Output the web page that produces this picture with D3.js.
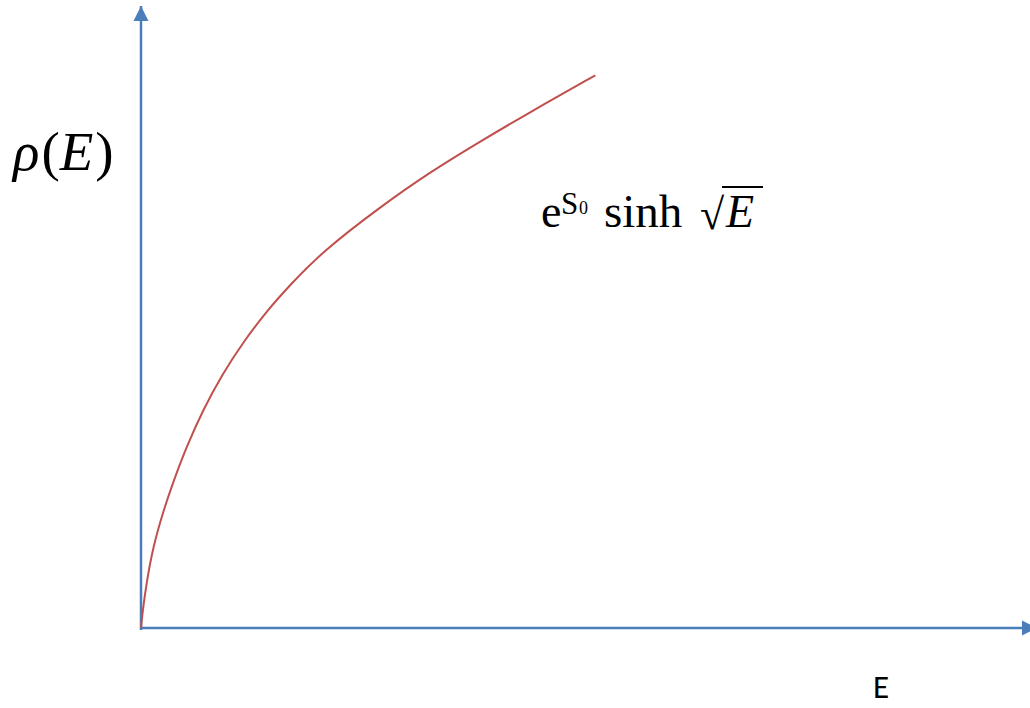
<!DOCTYPE html>
<html>
<head>
<meta charset="utf-8">
<script src="https://cdn.jsdelivr.net/npm/d3@7"></script>
<style>
  html, body { margin: 0; padding: 0; background: #fff; }
  svg { display: block; }
</style>
</head>
<body>
<script>
// Density of states curve, in arbitrary units (E along x, rho along y)
const energy = [0, 0.2, 0.64, 1.35, 2.5, 3.6, 5.0, 7.0, 9.2, 11.5, 14.0, 16.8, 20.4, 26.9, 32.5, 38.1, 43.8, 51.1];
const density = [0, 2.9, 7.4, 13.0, 18.8, 23.4, 28.8, 35.2, 41.0, 46.0, 50.8, 55.3, 60.6, 67.8, 73.4, 78.3, 83.1, 89.0];
const xDomain = [0, 100];
const yDomain = [0, 100];
const xLabel = "E";

const W = 1030, H = 708;
const AXIS = "#4a7ebb", CURVE = "#c0504d";

const svg = d3.select("body").append("svg").attr("width", W).attr("height", H);

const x = d3.scaleLinear().domain(xDomain).range([141, 1030]);
const y = d3.scaleLinear().domain(yDomain).range([628, 7]);

// arrowhead marker
const defs = svg.append("defs");
defs.append("marker")
  .attr("id", "arrow")
  .attr("viewBox", "0 0 10 10")
  .attr("refX", 10).attr("refY", 5)
  .attr("markerUnits", "userSpaceOnUse")
  .attr("markerWidth", 15).attr("markerHeight", 16)
  .attr("orient", "auto")
  .append("path").attr("d", "M0,0 L10,5 L0,10 Z").attr("fill", AXIS);

// axes
svg.append("line")
  .attr("x1", x(xDomain[0])).attr("y1", y(yDomain[0]) + 2)
  .attr("x2", x(xDomain[0])).attr("y2", y(yDomain[1]) - 1)
  .attr("stroke", AXIS).attr("stroke-width", 2.5)
  .attr("marker-end", "url(#arrow)");
svg.append("line")
  .attr("x1", x(xDomain[0])).attr("y1", y(yDomain[0]))
  .attr("x2", x(xDomain[1]) + 7).attr("y2", y(yDomain[0]))
  .attr("stroke", AXIS).attr("stroke-width", 2.5)
  .attr("marker-end", "url(#arrow)");

// curve
const pts = energy.map((e, i) => [e, density[i]]);
const line = d3.line().x(d => x(d[0])).y(d => y(d[1])).curve(d3.curveBasis);
svg.append("path")
  .datum(pts)
  .attr("d", line)
  .attr("fill", "none")
  .attr("stroke", CURVE)
  .attr("stroke-width", 2);

// y axis label
const yl = svg.append("text")
  .attr("x", 13).attr("y", 170)
  .attr("font-family", "'Liberation Serif', 'Times New Roman', serif")
  .attr("font-size", 55).attr("fill", "#000");
yl.append("tspan").attr("font-style", "italic").text("ρ");
yl.append("tspan").attr("dx", 2).text("(");
yl.append("tspan").attr("font-style", "italic").text("E");
yl.append("tspan").attr("dx", 2).text(")");

// x axis label
svg.append("text")
  .attr("x", 881).attr("y", 698)
  .attr("text-anchor", "middle")
  .attr("font-family", "Carlito, 'Liberation Sans', Arial, sans-serif")
  .attr("font-size", 33).attr("fill", "#000")
  .text(xLabel);

// formula: e^{S_0} sinh sqrt(E)
const serif = "'Liberation Serif', 'Times New Roman', serif";
const g = svg.append("g").attr("font-family", serif).attr("fill", "#000");
g.append("text").attr("x", 541).attr("y", 227).attr("font-size", 46).text("e");
g.append("text").attr("x", 561).attr("y", 214).attr("font-size", 31).text("S");
g.append("text").attr("x", 579).attr("y", 214).attr("font-size", 18).text("0");
g.append("text").attr("x", 604).attr("y", 227).attr("font-size", 47).text("sinh");
g.append("text").attr("x", 700).attr("y", 229).attr("font-size", 44).text("√");
g.append("line")
  .attr("x1", 722).attr("y1", 187).attr("x2", 763).attr("y2", 187)
  .attr("stroke", "#000").attr("stroke-width", 2);
g.append("text").attr("x", 726).attr("y", 227).attr("font-size", 46)
  .attr("font-style", "italic").text("E");
</script>
</body>
</html>
